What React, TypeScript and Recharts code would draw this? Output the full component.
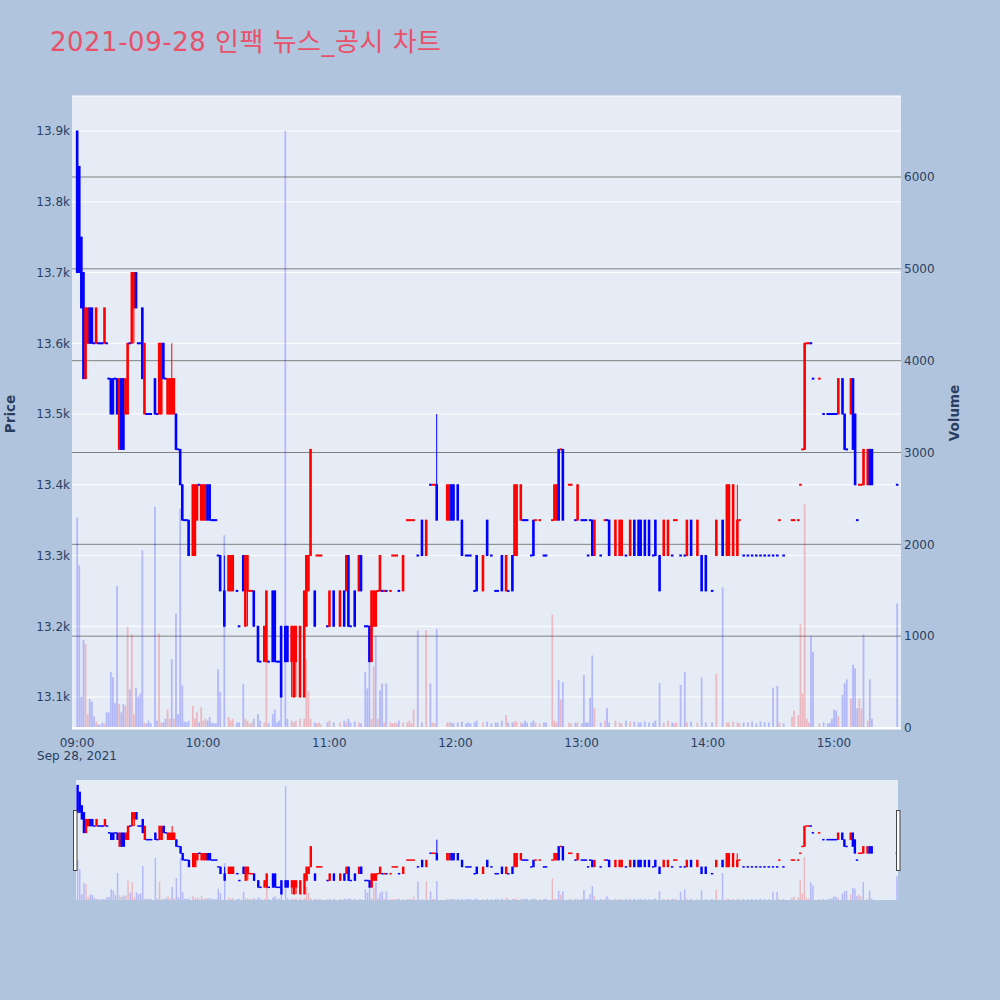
import React from "react";
import { Bar, CartesianGrid, ComposedChart, ReferenceLine, XAxis, YAxis } from "recharts";

// one row per traded minute: [minute after 09:00, open, close, volume, up (1 red / 0 blue), high?, low?]
type Row = [number, number, number, number, number, number?, number?];

const h09: Row[] = [
  [0, 13900, 13700, 2290, 0], [1, 13850, 13700, 1770, 0], [2, 13750, 13650, 340, 0],
  [3, 13700, 13550, 960, 0], [4, 13550, 13650, 915, 1], [5, 13600, 13650, 150, 1],
  [6, 13650, 13600, 315, 0], [7, 13650, 13600, 285, 0], [8, 13600, 13600, 125, 0],
  [9, 13600, 13650, 70, 1], [10, 13600, 13600, 40, 0], [11, 13600, 13600, 30, 0],
  [12, 13600, 13600, 60, 0], [13, 13600, 13650, 50, 1], [14, 13600, 13600, 170, 0],
  [15, 13550, 13550, 170, 0], [16, 13550, 13500, 610, 0], [17, 13550, 13500, 555, 0],
  [18, 13550, 13550, 270, 0], [19, 13550, 13500, 1545, 0], [20, 13450, 13550, 260, 1],
  [21, 13550, 13450, 170, 0], [22, 13550, 13450, 260, 0], [23, 13500, 13550, 240, 1],
  [24, 13500, 13600, 1100, 1], [25, 13600, 13600, 420, 0], [26, 13600, 13700, 1020, 1],
  [27, 13650, 13700, 150, 1, 13700, 13600], [28, 13700, 13650, 440, 0], [29, 13600, 13600, 340, 0],
  [30, 13600, 13600, 375, 0], [31, 13650, 13550, 1935, 0], [32, 13500, 13600, 60, 1],
  [33, 13500, 13500, 50, 0], [34, 13500, 13500, 80, 0], [35, 13500, 13500, 50, 0],
  [37, 13550, 13500, 2410, 0], [38, 13500, 13500, 80, 0], [39, 13500, 13600, 1030, 1],
  [40, 13500, 13600, 60, 1], [41, 13600, 13550, 60, 0], [42, 13550, 13550, 100, 0],
  [43, 13500, 13550, 200, 1], [44, 13500, 13550, 100, 1], [45, 13500, 13550, 750, 0, 13600],
  [46, 13500, 13550, 100, 1], [47, 13500, 13450, 1245, 0], [48, 13450, 13450, 150, 0],
  [49, 13450, 13400, 2390, 0], [50, 13400, 13350, 465, 0], [51, 13350, 13350, 70, 0],
  [52, 13350, 13350, 60, 0], [53, 13350, 13300, 80, 0], [55, 13300, 13400, 240, 1],
  [56, 13300, 13400, 100, 1], [57, 13350, 13400, 170, 1], [58, 13400, 13400, 60, 0],
  [59, 13350, 13400, 225, 1],
];

const h10: Row[] = [
  [60, 13350, 13400, 80, 1], [61, 13350, 13400, 100, 1], [62, 13400, 13350, 80, 0],
  [63, 13400, 13350, 120, 0], [64, 13350, 13350, 60, 0], [65, 13350, 13350, 50, 0],
  [66, 13350, 13350, 50, 0], [67, 13300, 13300, 640, 0], [68, 13300, 13250, 390, 0],
  [70, 13250, 13200, 2100, 0, 13300], [72, 13250, 13300, 120, 1], [73, 13250, 13300, 80, 1],
  [74, 13250, 13300, 100, 1], [76, 13250, 13250, 60, 0], [77, 13200, 13200, 60, 0],
  [79, 13300, 13250, 480, 0], [80, 13200, 13300, 100, 1], [81, 13250, 13300, 80, 1, 13300, 13200],
  [82, 13250, 13250, 50, 1], [83, 13250, 13250, 60, 1], [84, 13250, 13200, 100, 0],
  [86, 13200, 13150, 150, 0], [87, 13150, 13150, 80, 0], [89, 13150, 13200, 60, 1],
  [90, 13150, 13250, 840, 1], [91, 13150, 13150, 50, 0], [93, 13250, 13150, 150, 0],
  [94, 13250, 13150, 200, 0], [95, 13150, 13150, 60, 0], [96, 13150, 13150, 80, 0],
  [97, 13200, 13100, 500, 0], [99, 13200, 13150, 6500, 0], [100, 13200, 13150, 100, 0],
  [102, 13150, 13200, 80, 1, 13200, 13100], [103, 13100, 13200, 60, 1],
  [104, 13150, 13200, 80, 1, 13200, 13100], [106, 13100, 13200, 100, 1], [108, 13100, 13250, 100, 1],
  [109, 13200, 13300, 750, 1], [110, 13250, 13300, 400, 1], [111, 13300, 13450, 100, 1],
  [113, 13250, 13200, 60, 0], [114, 13300, 13300, 50, 1], [115, 13300, 13300, 60, 1],
  [116, 13300, 13300, 40, 1], [119, 13200, 13200, 60, 0],
];

const h11: Row[] = [
  [120, 13200, 13250, 80, 1], [122, 13250, 13200, 60, 0], [125, 13200, 13250, 60, 1],
  [127, 13250, 13200, 80, 0], [128, 13250, 13300, 60, 1], [129, 13300, 13200, 100, 0],
  [130, 13200, 13200, 60, 0], [132, 13250, 13200, 70, 0], [134, 13250, 13300, 60, 1],
  [135, 13300, 13250, 50, 0], [137, 13200, 13200, 610, 0], [138, 13200, 13200, 430, 0],
  [139, 13200, 13150, 1010, 0], [140, 13150, 13250, 100, 1], [141, 13200, 13250, 670, 1],
  [142, 13200, 13250, 1000, 0], [143, 13250, 13250, 100, 1], [144, 13250, 13300, 410, 0],
  [145, 13250, 13250, 485, 0], [146, 13250, 13250, 60, 1], [147, 13250, 13250, 485, 0],
  [149, 13250, 13250, 60, 1], [150, 13300, 13300, 50, 1], [151, 13300, 13300, 60, 1],
  [152, 13300, 13300, 50, 1], [153, 13250, 13250, 80, 0], [155, 13250, 13300, 60, 1],
  [157, 13350, 13350, 60, 1], [158, 13350, 13350, 80, 1], [159, 13350, 13350, 50, 1],
  [160, 13350, 13350, 200, 1], [162, 13300, 13300, 1060, 0], [164, 13350, 13300, 60, 0],
  [166, 13300, 13350, 1065, 1], [168, 13400, 13400, 485, 0], [169, 13400, 13400, 60, 1],
  [170, 13400, 13400, 50, 1], [171, 13400, 13350, 1080, 0, 13500], [176, 13350, 13400, 60, 1],
  [177, 13350, 13400, 60, 1], [178, 13400, 13350, 60, 0], [179, 13400, 13350, 50, 0],
];

const h12: Row[] = [
  [181, 13400, 13350, 60, 0], [183, 13350, 13300, 70, 0], [185, 13300, 13300, 50, 0],
  [186, 13300, 13300, 60, 0], [187, 13300, 13300, 50, 0], [189, 13250, 13250, 60, 0],
  [190, 13300, 13250, 80, 0], [193, 13250, 13300, 60, 1], [195, 13350, 13300, 70, 0],
  [197, 13300, 13300, 50, 0], [199, 13250, 13250, 60, 0], [200, 13250, 13250, 60, 0],
  [202, 13300, 13250, 80, 0], [204, 13250, 13300, 140, 1], [205, 13250, 13250, 60, 0],
  [207, 13300, 13250, 60, 0], [208, 13300, 13400, 70, 1], [209, 13300, 13400, 70, 1],
  [211, 13350, 13400, 60, 1], [212, 13350, 13350, 50, 0], [213, 13350, 13350, 80, 0],
  [214, 13350, 13350, 60, 0], [216, 13300, 13300, 60, 0], [217, 13350, 13300, 80, 0],
  [218, 13350, 13350, 60, 1], [220, 13350, 13350, 50, 1], [222, 13300, 13300, 60, 0],
  [223, 13300, 13300, 60, 0], [226, 13350, 13350, 1235, 1], [227, 13350, 13400, 80, 1],
  [228, 13350, 13400, 60, 1], [229, 13450, 13350, 520, 0], [230, 13450, 13450, 310, 1],
  [231, 13450, 13350, 500, 0], [234, 13400, 13400, 60, 1], [235, 13400, 13400, 50, 1],
  [237, 13350, 13350, 60, 0], [238, 13350, 13400, 60, 1],
];

const h13: Row[] = [
  [240, 13350, 13350, 50, 0], [241, 13350, 13350, 575, 0], [242, 13350, 13350, 60, 0],
  [243, 13300, 13300, 60, 0], [244, 13350, 13350, 330, 0], [245, 13350, 13300, 790, 0],
  [246, 13300, 13350, 215, 1], [249, 13300, 13300, 60, 0], [251, 13350, 13350, 80, 1],
  [252, 13350, 13350, 215, 0], [253, 13350, 13300, 60, 0], [256, 13300, 13350, 80, 1],
  [258, 13300, 13350, 60, 1], [259, 13300, 13350, 50, 1], [261, 13300, 13300, 80, 0],
  [263, 13300, 13350, 70, 1], [265, 13350, 13300, 70, 0], [267, 13350, 13300, 60, 0],
  [268, 13350, 13300, 60, 0], [270, 13350, 13300, 70, 0], [272, 13350, 13300, 60, 0],
  [274, 13300, 13300, 60, 0], [275, 13350, 13300, 80, 0], [277, 13300, 13250, 490, 0],
  [279, 13300, 13350, 60, 1], [281, 13300, 13350, 80, 1], [283, 13300, 13300, 60, 0],
  [284, 13350, 13350, 50, 1], [285, 13350, 13350, 60, 1], [287, 13300, 13300, 470, 0],
  [289, 13300, 13300, 610, 0], [290, 13300, 13350, 60, 1], [292, 13350, 13300, 70, 0],
  [295, 13300, 13350, 60, 1], [297, 13300, 13250, 550, 0], [299, 13300, 13250, 60, 0],
];

const h14: Row[] = [
  [302, 13250, 13250, 60, 0], [304, 13300, 13350, 590, 1], [307, 13350, 13300, 1530, 0],
  [309, 13300, 13400, 60, 1], [310, 13300, 13400, 60, 1], [312, 13300, 13400, 70, 1],
  [314, 13300, 13350, 60, 1, 13400], [315, 13350, 13350, 50, 1], [317, 13300, 13300, 60, 0],
  [319, 13300, 13300, 60, 0], [321, 13300, 13300, 70, 0], [323, 13300, 13300, 50, 0],
  [325, 13300, 13300, 70, 0], [327, 13300, 13300, 60, 0], [329, 13300, 13300, 60, 0],
  [331, 13300, 13300, 440, 0], [333, 13300, 13300, 460, 0], [334, 13350, 13350, 60, 1],
  [336, 13300, 13300, 50, 0], [340, 13350, 13350, 120, 1], [341, 13350, 13350, 190, 1],
  [343, 13350, 13350, 140, 1], [344, 13400, 13400, 1130, 1], [345, 13450, 13450, 375, 1],
  [346, 13450, 13600, 2435, 1], [347, 13600, 13600, 100, 1], [348, 13600, 13600, 60, 1],
  [349, 13600, 13600, 1000, 0], [350, 13550, 13550, 830, 0], [353, 13550, 13550, 50, 1],
  [355, 13500, 13500, 60, 0], [357, 13500, 13500, 50, 0], [358, 13500, 13500, 60, 0],
  [359, 13500, 13500, 100, 0],
];

const h15: Row[] = [
  [360, 13500, 13500, 200, 0], [361, 13500, 13500, 190, 0], [362, 13500, 13550, 130, 1],
  [364, 13550, 13500, 360, 0], [365, 13500, 13450, 485, 0], [366, 13450, 13450, 530, 0],
  [368, 13500, 13550, 320, 1], [369, 13550, 13450, 690, 0], [370, 13500, 13400, 650, 0],
  [371, 13350, 13350, 215, 0], [372, 13400, 13400, 320, 1], [373, 13400, 13400, 215, 1],
  [374, 13400, 13450, 1020, 0], [376, 13400, 13450, 80, 1], [377, 13450, 13400, 530, 0],
  [378, 13450, 13400, 100, 0], [390, 13400, 13400, 1355, 0],
];

const priceTicks = [13100, 13200, 13300, 13400, 13500, 13600, 13700, 13800, 13900];
const volumeTicks = [0, 1000, 2000, 3000, 4000, 5000, 6000];
const timeTicks = [0, 60, 120, 180, 240, 300, 360];
const timeLabels = ["09:00", "10:00", "11:00", "12:00", "13:00", "14:00", "15:00"];
const dateLabel = "Sep 28, 2021";
const title = "2021-09-28 인팩 뉴스_공시 차트";

const RED = "#ff0000";
const BLUE = "#0000ff";
const INK = "#2a3f5f";
const FONT = "'DejaVu Sans', 'Noto Sans CJK KR', sans-serif";
const EPS = 0.5;

const candles = [h09, h10, h11, h12, h13, h14, h15].flat().map(([t, open, close, vol, up, high, low]) => ({
  t,
  open,
  close,
  vol,
  up: up === 1,
  high: high ?? Math.max(open, close),
  low: low ?? Math.min(open, close),
}));

type Candle = (typeof candles)[number];

const candleColor = (d: Candle) =>
  d.close > d.open ? RED : d.close < d.open ? BLUE : d.up ? RED : BLUE;

const priceRange = (d: Candle) => [d.low - EPS, d.high + EPS];

function makeCandle(bodyWidth: number, dojiHeight: number, pad: number) {
  return (props: any) => {
    const { x, y, width, height, payload } = props;
    if (!payload || height == null || isNaN(y)) return <g />;
    const hi = payload.high + EPS;
    const lo = payload.low - EPS;
    const py = (p: number) => y + ((hi - p) / (hi - lo)) * height;
    const cx = x + width / 2;
    const color = candleColor(payload);
    const top = py(Math.max(payload.open, payload.close));
    const bottom = py(Math.min(payload.open, payload.close));
    const h = payload.open === payload.close ? dojiHeight : bottom - top + pad;
    const mid = (top + bottom) / 2;
    return (
      <g>
        <line x1={cx} x2={cx} y1={py(payload.high)} y2={py(payload.low)} stroke={color} strokeWidth={1} />
        <rect x={cx - bodyWidth / 2} y={mid - h / 2} width={bodyWidth} height={h} fill={color} />
      </g>
    );
  };
}

function makeVolume(barWidth: number) {
  return (props: any) => {
    const { x, y, width, height, payload } = props;
    if (!payload || height == null || isNaN(y)) return <g />;
    return (
      <rect
        x={x + width / 2 - barWidth / 2}
        y={y}
        width={barWidth}
        height={Math.max(height, 0)}
        fill={payload.up ? RED : BLUE}
        fillOpacity={0.22}
      />
    );
  };
}

const mainCandle = makeCandle(2.6, 2, 1);
const mainVolume = makeVolume(1.8);
const miniCandle = makeCandle(2.4, 1.5, 0.6);
const miniVolume = makeVolume(1.5);

function TimeTick(props: any) {
  const { x, y, payload } = props;
  const label = timeLabels[timeTicks.indexOf(payload.value)];
  return (
    <g>
      <text x={x} y={y + 18} textAnchor="middle" fill={INK} fontSize={12} fontFamily={FONT}>
        {label}
      </text>
      {payload.value === timeTicks[0] && (
        <text x={x} y={y + 31} textAnchor="middle" fill={INK} fontSize={12} fontFamily={FONT}>
          {dateLabel}
        </text>
      )}
    </g>
  );
}

const tickStyle = { fill: INK, fontSize: 12, fontFamily: FONT };
const timeDomain: [number, number] = [-2.38, 391.9];

export default function App() {
  return (
    <div style={{ position: "fixed", left: 0, top: 0, width: 1000, height: 1000, background: "#b0c4de" }}>
      <div style={{ position: "absolute", left: 0, top: 0 }}>
        <ComposedChart width={1000} height={780} data={candles} margin={{ top: 96, right: 39, bottom: 21, left: 12 }}>
          <CartesianGrid xAxisId="t" yAxisId="p" vertical={false} stroke="#ffffff" fill="#e5ecf6" fillOpacity={1} />
          <CartesianGrid
            xAxisId="tv"
            yAxisId="v"
            vertical={false}
            stroke="#808080"
            horizontalValues={volumeTicks.slice(1)}
          />
          <ReferenceLine xAxisId="tv" yAxisId="v" y={0} stroke="#ffffff" strokeWidth={2} />
          <XAxis
            xAxisId="t"
            dataKey="t"
            type="number"
            domain={timeDomain}
            allowDataOverflow
            ticks={timeTicks}
            interval={0}
            tick={<TimeTick />}
            tickLine={false}
            axisLine={false}
            tickSize={0}
            tickMargin={0}
            height={30}
          />
          <XAxis xAxisId="tv" dataKey="t" type="number" domain={timeDomain} allowDataOverflow hide />
          <YAxis
            yAxisId="p"
            orientation="left"
            width={60}
            domain={[13054.8, 13949.5]}
            allowDataOverflow
            ticks={priceTicks}
            interval={0}
            tickFormatter={(v: number) => `${(v / 1000).toFixed(1)}k`}
            tick={tickStyle}
            tickLine={false}
            axisLine={false}
            tickSize={0}
            tickMargin={2}
          />
          <YAxis
            yAxisId="v"
            orientation="right"
            width={60}
            domain={[-11, 6882]}
            allowDataOverflow
            ticks={volumeTicks}
            interval={0}
            tick={tickStyle}
            tickLine={false}
            axisLine={false}
            tickSize={0}
            tickMargin={3}
          />
          <Bar xAxisId="tv" yAxisId="v" dataKey="vol" shape={mainVolume} isAnimationActive={false} />
          <Bar xAxisId="t" yAxisId="p" dataKey={priceRange} shape={mainCandle} isAnimationActive={false} />
        </ComposedChart>
      </div>

      <div style={{ position: "absolute", left: 76, top: 780, width: 822, height: 120, background: "#e5ecf6" }}>
        <ComposedChart width={822} height={120} data={candles} margin={{ top: 0, right: 0, bottom: 0, left: 0 }}>
          <XAxis xAxisId="s" dataKey="t" type="number" domain={[-0.7, 390.6]} allowDataOverflow hide />
          <XAxis xAxisId="sv" dataKey="t" type="number" domain={[-0.7, 390.6]} allowDataOverflow hide />
          <YAxis yAxisId="sp" domain={[13057, 13938]} allowDataOverflow hide />
          <YAxis yAxisId="sv" domain={[0, 6840]} allowDataOverflow hide />
          <Bar xAxisId="sv" yAxisId="sv" dataKey="vol" shape={miniVolume} isAnimationActive={false} />
          <Bar xAxisId="s" yAxisId="sp" dataKey={priceRange} shape={miniCandle} isAnimationActive={false} />
        </ComposedChart>
      </div>

      <svg
        width={1000}
        height={1000}
        style={{ position: "absolute", left: 0, top: 0, pointerEvents: "none" }}
      >
        <text x={50} y={51} fill="#e9506a" fontSize={26} fontFamily={FONT} textLength={391} lengthAdjust="spacing">
          {title}
        </text>
        <text
          x={10}
          y={414}
          transform="rotate(-90 10 414)"
          textAnchor="middle"
          dominantBaseline="central"
          fill={INK}
          fontSize={13.5}
          fontWeight="bold"
          fontFamily={FONT}
        >
          Price
        </text>
        <text
          x={954}
          y={413}
          transform="rotate(-90 954 413)"
          textAnchor="middle"
          dominantBaseline="central"
          fill={INK}
          fontSize={13.5}
          fontWeight="bold"
          fontFamily={FONT}
        >
          Volume
        </text>
        <rect x={73.5} y={810.5} width={3.5} height={60} fill="#ffffff" stroke="#444444" strokeWidth={1} />
        <rect x={896.5} y={810.5} width={3.5} height={60} fill="#ffffff" stroke="#444444" strokeWidth={1} />
      </svg>
    </div>
  );
}
